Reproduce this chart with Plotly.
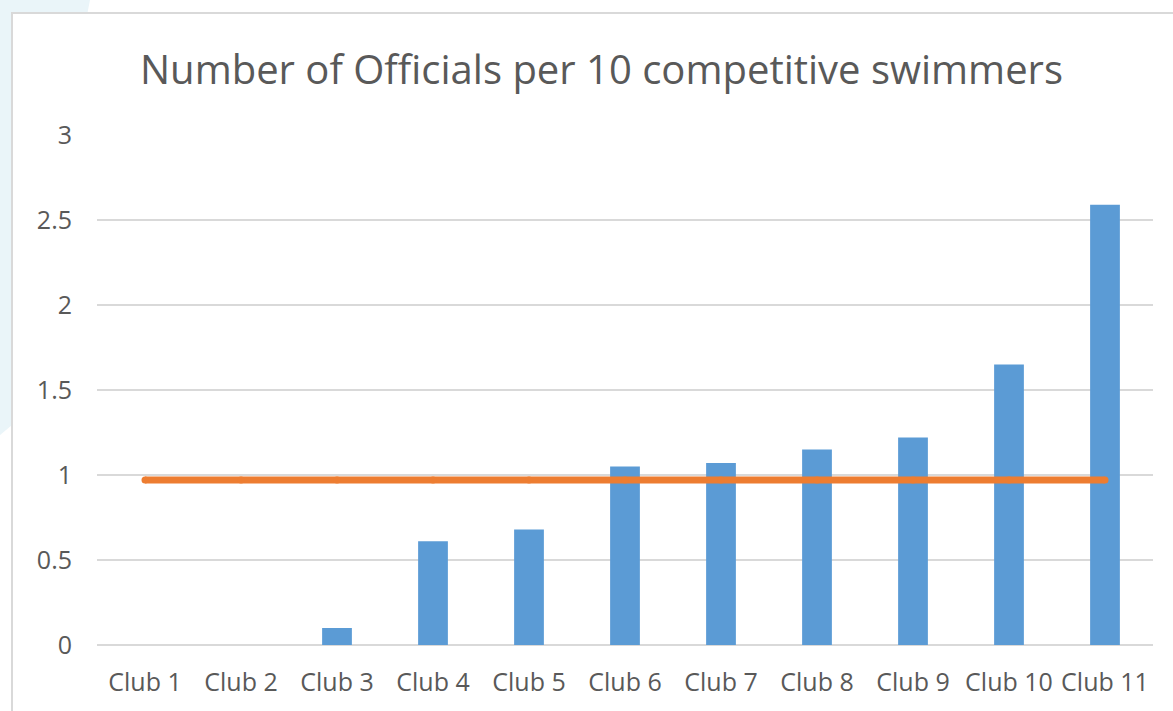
import plotly.graph_objects as go

clubs = ["Club 1", "Club 2", "Club 3", "Club 4", "Club 5", "Club 6",
         "Club 7", "Club 8", "Club 9", "Club 10", "Club 11"]
officials_per_10 = [0, 0, 0.1, 0.61, 0.68, 1.05, 1.07, 1.15, 1.22, 1.65, 2.59]
average_line = [0.97] * len(clubs)
y_ticks = [0, 0.5, 1, 1.5, 2, 2.5, 3]

W, H = 1173, 711
L, R, T, B = 97, 20, 135, 66
pw, ph = W - L - R, H - T - B

def px(x):
    return (x - L) / pw

def py(y):
    return (H - B - y) / ph

TEXT = "#595959"
GRID = "#d9d9d9"
FONT = "Open Sans"

fig = go.Figure()
fig.add_trace(go.Bar(x=clubs, y=officials_per_10, marker_color="#5b9bd5",
                     marker_line_width=0, showlegend=False))
fig.add_trace(go.Scatter(x=clubs, y=average_line, mode="lines+markers",
                         line=dict(color="#ed7d31", width=7),
                         marker=dict(color="#ed7d31", size=7, line_width=0),
                         showlegend=False))

shapes = [
    dict(type="path", xref="paper", yref="paper", layer="below",
         path=(f"M {px(0)} {py(0)} L {px(90)} {py(0)} "
               f"Q {px(50)} {py(200)} {px(12)} {py(425)} "
               f"L {px(0)} {py(435)} Z"),
         fillcolor="#eaf5f9", line_width=0),
    dict(type="rect", xref="paper", yref="paper", layer="below",
         x0=px(12), x1=px(1190), y0=py(13), y1=py(730),
         fillcolor="white", line=dict(color=GRID, width=2)),
]

fig.update_layout(
    width=W, height=H,
    margin=dict(l=L, r=R, t=T, b=B, autoexpand=False),
    paper_bgcolor="white", plot_bgcolor="white",
    bargap=0.69,
    shapes=shapes,
    title=dict(text="Number of Officials per 10 competitive swimmers",
               font=dict(family=FONT, size=40, color=TEXT),
               x=601.5 / W, xanchor="center", xref="container",
               y=1 - 70 / H, yanchor="middle", yref="container"),
    xaxis=dict(range=[-0.5, 10.5], showgrid=False, showline=False, zeroline=False,
               tickfont=dict(family=FONT, size=25, color=TEXT),
               ticklabelstandoff=20),
    yaxis=dict(range=[0, 3], tickvals=y_ticks, ticktext=[str(v) for v in y_ticks],
               showgrid=True, gridcolor=GRID, gridwidth=2,
               zeroline=True, zerolinecolor=GRID, zerolinewidth=2,
               showline=False,
               tickfont=dict(family=FONT, size=25, color=TEXT),
               ticklabelstandoff=24),
)

fig.write_html("out.html", config={"displayModeBar": False},
               post_script="document.body.style.margin='0';document.body.style.overflow='hidden';")
